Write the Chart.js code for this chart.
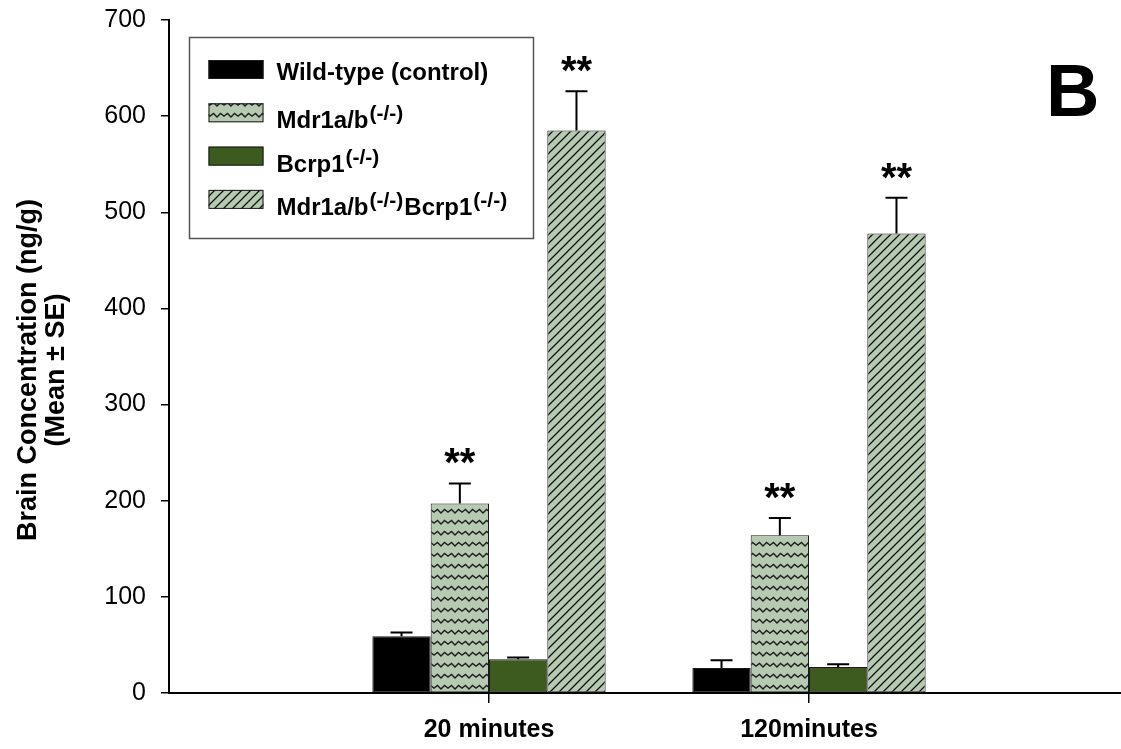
<!DOCTYPE html>
<html>
<head>
<meta charset="utf-8">
<script src="https://cdn.jsdelivr.net/npm/chart.js@4/dist/chart.umd.min.js"></script>
<style>
  html, body { margin: 0; padding: 0; background: #ffffff; }
  #wrap { width: 1121px; height: 749px; position: relative; }
</style>
</head>
<body>
<div id="wrap"><canvas id="c" width="1121" height="749"></canvas></div>
<script>
// ---- data ----
const categories = ['20 minutes', '120minutes'];
const seriesNames = ['Wild-type (control)', 'Mdr1a/b', 'Bcrp1', 'Mdr1a/bBcrp1'];
const legendParts = [
  [['Wild-type (control)', false]],
  [['Mdr1a/b', false], ['(-/-)', true]],
  [['Bcrp1', false], ['(-/-)', true]],
  [['Mdr1a/b', false], ['(-/-)', true], ['Bcrp1', false], ['(-/-)', true]]
];
const yTitleLines = ['Brain Concentration (ng/g)', '(Mean ± SE)'];
const wildType = [59, 26];
const wildTypeErr = [4, 8];
const mdr = [197, 164];
const mdrErr = [21, 18];
const bcrp = [35, 27];
const bcrpErr = [2, 3];
const mdrBcrp = [585, 478];
const mdrBcrpErr = [41, 37];
const wildTypeSig = ['', ''];
const mdrSig = ['**', '**'];
const bcrpSig = ['', ''];
const mdrBcrpSig = ['**', '**'];
const yTicks = [0, 100, 200, 300, 400, 500, 600, 700];

// ---- patterns ----
const SAGE = '#b6cab2';
function wavePattern() {
  const t = document.createElement('canvas');
  t.width = 14; t.height = 11;
  const g = t.getContext('2d');
  g.fillStyle = SAGE; g.fillRect(0, 0, 14, 11);
  g.strokeStyle = '#1e1e1e'; g.lineWidth = 1.4;
  g.beginPath();
  g.moveTo(-1, 7); g.lineTo(3.5, 3.5); g.lineTo(7, 7); g.lineTo(10.5, 3.5); g.lineTo(15, 7);
  g.stroke();
  return g.createPattern(t, 'repeat');
}
function hatchPattern() {
  const t = document.createElement('canvas');
  t.width = 9; t.height = 9;
  const g = t.getContext('2d');
  g.fillStyle = SAGE; g.fillRect(0, 0, 9, 9);
  g.strokeStyle = '#111'; g.lineWidth = 1.3;
  g.beginPath();
  g.moveTo(-1, 10); g.lineTo(10, -1);
  g.moveTo(-2, 2); g.lineTo(2, -2);
  g.moveTo(7, 11); g.lineTo(11, 7);
  g.stroke();
  return g.createPattern(t, 'repeat');
}
const fills = ['#000000', wavePattern(), '#3d5b1f', hatchPattern()];

const values = [wildType, mdr, bcrp, mdrBcrp];
const errs = [wildTypeErr, mdrErr, bcrpErr, mdrBcrpErr];
const sigs = [wildTypeSig, mdrSig, bcrpSig, mdrBcrpSig];

const datasets = values.map((arr, i) => ({
  label: seriesNames[i],
  data: arr.map((v, j) => ({ x: j + 1, y: v })),
  backgroundColor: fills[i],
  borderColor: '#1a1a1a',
  borderWidth: 1,
  borderSkipped: false,
  categoryPercentage: 0.729,
  barPercentage: 1.0
}));

const FONT = "'Liberation Sans', Arial, sans-serif";

// error bars + stars
const errorPlugin = {
  id: 'errbars',
  afterDatasetsDraw(chart) {
    const ctx = chart.ctx;
    const ys = chart.scales.y;
    ctx.save();
    values.forEach((arr, i) => {
      const meta = chart.getDatasetMeta(i);
      meta.data.forEach((el, j) => {
        const top = ys.getPixelForValue(arr[j]);
        const et = ys.getPixelForValue(arr[j] + errs[i][j]);
        ctx.strokeStyle = '#000';
        ctx.lineWidth = 2;
        ctx.beginPath();
        ctx.moveTo(el.x, top);
        ctx.lineTo(el.x, et);
        ctx.moveTo(el.x - 11, et);
        ctx.lineTo(el.x + 11, et);
        ctx.stroke();
        if (sigs[i][j]) {
          ctx.fillStyle = '#000';
          ctx.font = 'bold 40px ' + FONT;
          ctx.textAlign = 'center';
          ctx.textBaseline = 'alphabetic';
          ctx.fillText(sigs[i][j], el.x, et - 7);
        }
      });
    });
    ctx.restore();
  }
};

// legend box with superscripts, y title, panel letter
const legendPlugin = {
  id: 'customLegend',
  afterDraw(chart) {
    const ctx = chart.ctx;
    const a = chart.chartArea;
    const bx = a.left + 20.5, by = 37.5, bw = 344, bh = 201;
    ctx.save();
    ctx.fillStyle = '#fff';
    ctx.fillRect(bx, by, bw, bh);
    ctx.strokeStyle = '#555';
    ctx.lineWidth = 1.5;
    ctx.strokeRect(bx, by, bw, bh);
    legendParts.forEach((parts, i) => {
      const sy = 60 + i * 43.3;
      const sx = bx + 19;
      ctx.fillStyle = fills[i];
      ctx.fillRect(sx, sy, 55, 19);
      ctx.strokeStyle = '#1a1a1a';
      ctx.lineWidth = 1;
      ctx.strokeRect(sx + 0.5, sy + 0.5, 54, 18);
      const hasSup = parts.some(p => p[1]);
      const base = sy + 20 + (hasSup ? 5 : 0);
      let x = bx + 87;
      ctx.fillStyle = '#000';
      ctx.textBaseline = 'alphabetic';
      ctx.textAlign = 'left';
      parts.forEach(([txt, sup]) => {
        ctx.font = sup ? 'bold 21px ' + FONT : 'bold 24px ' + FONT;
        ctx.fillText(txt, x, sup ? base - 8 : base);
        x += ctx.measureText(txt).width + 1;
      });
    });
    // y-axis title
    ctx.save();
    ctx.translate(0, 370);
    ctx.rotate(-Math.PI / 2);
    ctx.font = 'bold 27px ' + FONT;
    ctx.textAlign = 'center';
    ctx.textBaseline = 'middle';
    ctx.fillStyle = '#000';
    yTitleLines.forEach((t, k) => ctx.fillText(t, 0, 29 + k * 27.5));
    ctx.restore();
    // panel letter
    ctx.font = 'bold 74px ' + FONT;
    ctx.fillStyle = '#000';
    ctx.textAlign = 'left';
    ctx.textBaseline = 'alphabetic';
    ctx.fillText('B', 1046, 116);
    ctx.restore();
  }
};

new Chart(document.getElementById('c'), {
  type: 'bar',
  data: { datasets },
  plugins: [errorPlugin, legendPlugin],
  options: {
    responsive: false,
    animation: false,
    layout: { padding: { top: 20, right: 0, left: 0, bottom: 0 } },
    plugins: { legend: { display: false }, tooltip: { enabled: false } },
    scales: {
      x: {
        type: 'linear',
        min: 0,
        max: 2.975,
        offset: false,
        afterBuildTicks: (s) => { s.ticks = categories.map((c, i) => ({ value: i + 1 })); },
        afterFit: (s) => { s.height = 56; s.paddingLeft = 0; s.paddingRight = 0; },
        ticks: {
          autoSkip: false,
          maxRotation: 0,
          padding: 12,
          color: '#000',
          font: { family: FONT, size: 25, weight: 'bold' },
          callback: (v) => categories[Math.round(v) - 1] || ''
        },
        grid: { display: true, drawOnChartArea: false, drawTicks: true, tickLength: 10, color: '#000', lineWidth: 1.5, offset: false },
        border: { display: true, color: '#000', width: 2 }
      },
      y: {
        type: 'linear',
        min: 0,
        max: 700,
        afterBuildTicks: (s) => { s.ticks = yTicks.map(v => ({ value: v })); },
        afterFit: (s) => { s.width = 169; s.paddingTop = 0; s.paddingBottom = 0; },
        ticks: {
          padding: 15,
          color: '#000',
          font: { family: FONT, size: 25 }
        },
        grid: { display: true, drawOnChartArea: false, drawTicks: true, tickLength: 8, color: '#000', lineWidth: 1.5 },
        border: { display: true, color: '#000', width: 2 },
        title: { display: false }
      }
    }
  }
});
</script>
</body>
</html>
